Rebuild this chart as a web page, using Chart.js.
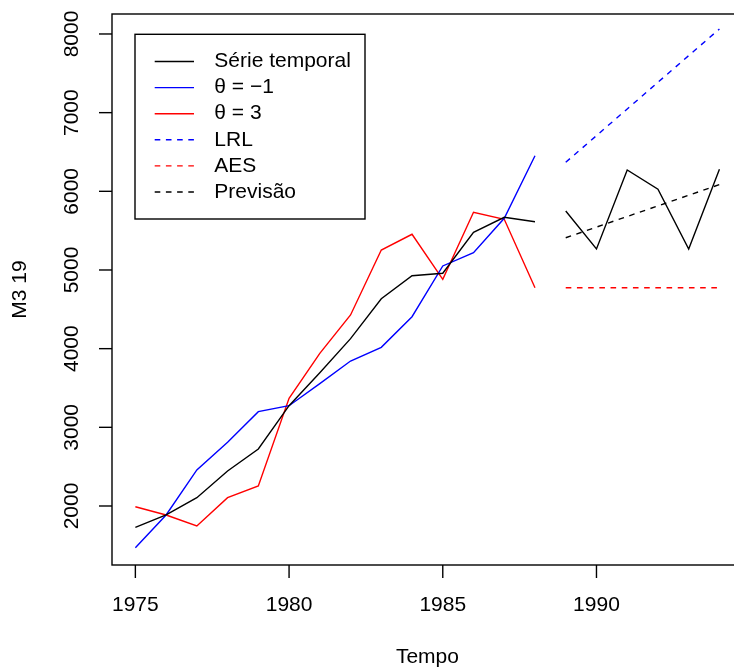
<!DOCTYPE html>
<html>
<head>
<meta charset="utf-8">
<script src="https://cdn.jsdelivr.net/npm/chart.js@4/dist/chart.umd.min.js"></script>
<style>
html,body{margin:0;padding:0;overflow:hidden;background:#fff;width:734px;height:667px;}
canvas{display:block;}
</style>
</head>
<body>
<canvas id="c" width="760" height="667" style="width:760px;height:667px"></canvas>
<script>
// ---- data ----
const yearsHist = [1975,1976,1977,1978,1979,1980,1981,1982,1983,1984,1985,1986,1987,1988];
const yearsFc = [1989,1990,1991,1992,1993,1994];
const serieTreino = [1729,1886,2106,2445,2725,3275,3694,4127,4635,4927,4958,5479,5670,5614];
const serieTeste = [5750,5267,6271,6026,5267,6280];
const thetaMinus1 = [1470,1886,2458,2810,3199,3275,3555,3843,4017,4406,5051,5220,5657,6453];
const theta3 = [1991,1886,1746,2106,2254,3369,3941,4428,5254,5454,4882,5733,5644,4775];
const lrl = [6369,6708,7047,7386,7725,8064];
const aes = [4775,4775,4775,4775,4775,4775];
const previsao = [5410,5545,5680,5815,5950,6085];
const xTicks = [1975,1980,1985,1990];
const yTicks = [2000,3000,4000,5000,6000,7000,8000];
const legendLabels = ['Série temporal','θ = −1','θ = 3','LRL','AES','Previsão'];

const pts = (xs, ys) => xs.map((x,i)=>({x:x, y:ys[i]}));
const FONT = '"Liberation Sans", Arial, Helvetica, sans-serif';
const LW = 1.4;
const DASH = [5.6,5.6];

const legendStyles = [
  {color:'#000000', dash:[]},
  {color:'#0000FF', dash:[]},
  {color:'#FF0000', dash:[]},
  {color:'#0000FF', dash:DASH},
  {color:'#FF0000', dash:DASH},
  {color:'#000000', dash:DASH}
];

const rAxes = {
  id:'rAxes',
  afterDraw(chart){
    const ctx = chart.ctx, a = chart.chartArea;
    const xs = chart.scales.x, ys = chart.scales.y;
    ctx.save();
    ctx.strokeStyle = '#000'; ctx.lineWidth = LW; ctx.setLineDash([]);
    ctx.strokeRect(a.left, a.top, a.right-a.left, a.bottom-a.top);
    ctx.fillStyle = '#000';
    ctx.font = '21px ' + FONT;
    // x ticks
    ctx.textAlign='center'; ctx.textBaseline='middle';
    xTicks.forEach(v=>{
      const px = xs.getPixelForValue(v);
      ctx.beginPath(); ctx.moveTo(px, a.bottom); ctx.lineTo(px, a.bottom+13); ctx.stroke();
      ctx.fillText(String(v), px, 605.5);
    });
    // y ticks
    yTicks.forEach(v=>{
      const py = ys.getPixelForValue(v);
      ctx.beginPath(); ctx.moveTo(a.left, py); ctx.lineTo(a.left-13, py); ctx.stroke();
      ctx.save(); ctx.translate(72.5, py); ctx.rotate(-Math.PI/2);
      ctx.fillText(String(v), 0, 0); ctx.restore();
    });
    // axis titles
    ctx.fillText('Tempo', (a.left+a.right)/2, 657);
    ctx.save(); ctx.translate(20.5, (a.top+a.bottom)/2); ctx.rotate(-Math.PI/2);
    ctx.fillText('M3 19', 0, 0); ctx.restore();
    // legend
    ctx.fillStyle='#fff';
    ctx.fillRect(135, 34.3, 230, 184.7);
    ctx.strokeRect(135, 34.3, 230, 184.7);
    ctx.fillStyle='#000';
    ctx.textAlign='left';
    legendLabels.forEach((t,i)=>{
      const cy = 61.5 + i*26.1;
      const s = legendStyles[i];
      ctx.strokeStyle = s.color; ctx.setLineDash(s.dash);
      ctx.beginPath(); ctx.moveTo(154.7, cy); ctx.lineTo(194, cy); ctx.stroke();
      ctx.setLineDash([]);
      ctx.fillText(t, 214.3, cy);
    });
    ctx.restore();
  }
};

const ds = (label, data, color, dash) => ({
  label, data, borderColor: color, backgroundColor: color,
  borderWidth: LW, borderDash: dash, pointRadius: 0, tension: 0, fill: false
});

new Chart(document.getElementById('c'), {
  type: 'line',
  data: {
    datasets: [
      ds('Série temporal', pts(yearsHist, serieTreino), '#000000', []),
      ds('Série temporal (teste)', pts(yearsFc, serieTeste), '#000000', []),
      ds('θ = −1', pts(yearsHist, thetaMinus1), '#0000FF', []),
      ds('θ = 3', pts(yearsHist, theta3), '#FF0000', []),
      ds('LRL', pts(yearsFc, lrl), '#0000FF', DASH),
      ds('AES', pts(yearsFc, aes), '#FF0000', DASH),
      ds('Previsão', pts(yearsFc, previsao), '#000000', DASH)
    ]
  },
  options: {
    responsive: false,
    animation: false,
    events: [],
    layout: { padding: { left: 112, top: 14, right: 17.2, bottom: 102 } },
    scales: {
      x: { type: 'linear', min: 1974.24, max: 1994.76, display: false },
      y: { type: 'linear', min: 1250, max: 8254, display: false }
    },
    plugins: { legend: { display: false }, tooltip: { enabled: false } }
  },
  plugins: [rAxes]
});
</script>
</body>
</html>
